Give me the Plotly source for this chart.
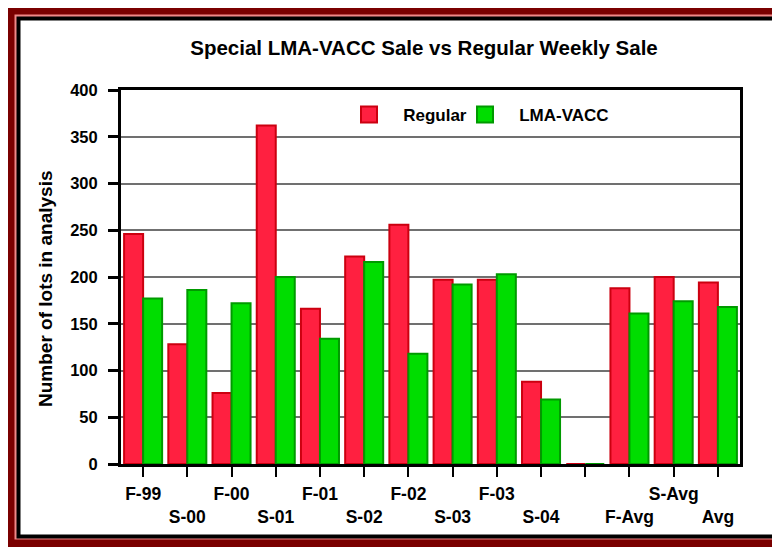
import plotly.graph_objects as go

categories = ["F-99", "S-00", "F-00", "S-01", "F-01", "S-02", "F-02", "S-03",
              "F-03", "S-04", " ", "F-Avg", "S-Avg", "Avg"]
regular = [246, 128, 76, 362, 166, 222, 256, 197, 197, 88, 0, 188, 200, 194]
lma_vacc = [177, 186, 172, 200, 134, 216, 118, 192, 203, 69, 0, 161, 174, 168]
y_ticks = [0, 50, 100, 150, 200, 250, 300, 350, 400]
series_names = ["Regular", "LMA-VACC"]

# the page body has an 8px default margin: work in window pixels, shift by OFF
OFF = 8
W, H = 780, 547
L, R, T, B = 121, 740, 90, 464
FONT = "Liberation Sans, Arial, sans-serif"

RED, RED_LINE = "#ff2040", "#cc0010"
GREEN, GREEN_LINE = "#00dd00", "#009a00"


def px(x):
    return (x - L) / (R - L)


def py(y):
    return (B - y) / (B - T)


fig = go.Figure()
fig.add_trace(go.Bar(
    x=categories, y=regular, name=series_names[0], showlegend=False,
    marker=dict(color=RED, line=dict(color=RED_LINE, width=2)),
))
fig.add_trace(go.Bar(
    x=categories, y=lma_vacc, name=series_names[1], showlegend=False,
    marker=dict(color=GREEN, line=dict(color=GREEN_LINE, width=2)),
))
# legend entries with larger square swatches, one legend box each
for name, fc, lc, lg in [(series_names[0], RED, RED_LINE, "legend"),
                         (series_names[1], GREEN, GREEN_LINE, "legend2")]:
    fig.add_trace(go.Scatter(
        x=[None], y=[None], mode="markers", name="\u00a0\u00a0\u00a0<b>" + name + "</b>",
        marker=dict(symbol="square", size=17, color=fc, line=dict(color=lc, width=2)),
        showlegend=True, legend=lg,
    ))

shapes = [
    dict(type="rect", xref="paper", yref="paper", layer="below",
         x0=px(7), x1=px(800), y0=py(6), y1=py(560),
         fillcolor="#7a0000", line=dict(width=0)),
    dict(type="rect", xref="paper", yref="paper", layer="below",
         x0=px(14.5), x1=px(790), y0=py(14.5), y1=py(539.5),
         fillcolor="#f08888", line=dict(width=0)),
    dict(type="rect", xref="paper", yref="paper", layer="below",
         x0=px(18.5), x1=px(778), y0=py(18.5), y1=py(536.5),
         fillcolor="white", line=dict(color="black", width=4)),
]

legend_style = dict(orientation="h", yanchor="top", xanchor="left", y=py(97),
                    font=dict(size=17, family=FONT, color="black"),
                    bgcolor="rgba(0,0,0,0)", itemsizing="trace")

fig.update_layout(
    width=W - OFF, height=H - OFF,
    margin=dict(l=L - OFF, r=W - R, t=T - OFF, b=H - B, pad=0),
    paper_bgcolor="#e6e2e2",
    plot_bgcolor="rgba(0,0,0,0)",
    barmode="group", bargap=0.14, bargroupgap=0,
    shapes=shapes,
    font=dict(family=FONT, color="black"),
    title=dict(text="<b>Special LMA-VACC Sale vs Regular Weekly Sale</b>",
               font=dict(size=20.5, family=FONT, color="black"),
               xref="paper", x=px(424), xanchor="center",
               yref="container", y=1 - (48 - OFF) / (H - OFF), yanchor="middle"),
    legend=dict(x=px(349), **legend_style),
    legend2=dict(x=px(465), **legend_style),
    showlegend=True,
    annotations=[dict(
        text="<b>Number of lots in analysis</b>", textangle=-90,
        xref="paper", yref="paper", x=px(45), y=py(289),
        xanchor="center", yanchor="middle", showarrow=False,
        font=dict(size=19, family=FONT, color="black"),
    )],
)

fig.update_yaxes(
    range=[0, 400], tickvals=y_ticks, ticktext=[f"<b>{v}</b>" for v in y_ticks],
    ticks="outside", ticklen=10, tickwidth=2.5, tickcolor="black",
    ticklabelstandoff=7,
    showline=True, linewidth=3, linecolor="black", mirror=True,
    showgrid=True, gridcolor="#707070", gridwidth=1.5, zeroline=False,
    tickfont=dict(size=16.5, family=FONT, color="black"),
)
tick_text = ["<b>" + c + "</b>" if i % 2 == 0 else "<br><b>" + c + "</b>"
             for i, c in enumerate(categories)]
fig.update_xaxes(
    type="category", categoryorder="array", categoryarray=categories,
    tickvals=categories, ticktext=tick_text,
    ticks="outside", ticklen=10, tickwidth=2, tickcolor="black",
    ticklabelstandoff=2,
    showline=True, linewidth=3, linecolor="black", mirror=True,
    tickfont=dict(size=17.5, family=FONT, color="black"),
    tickangle=0,
)

fig.write_html("out.html")
